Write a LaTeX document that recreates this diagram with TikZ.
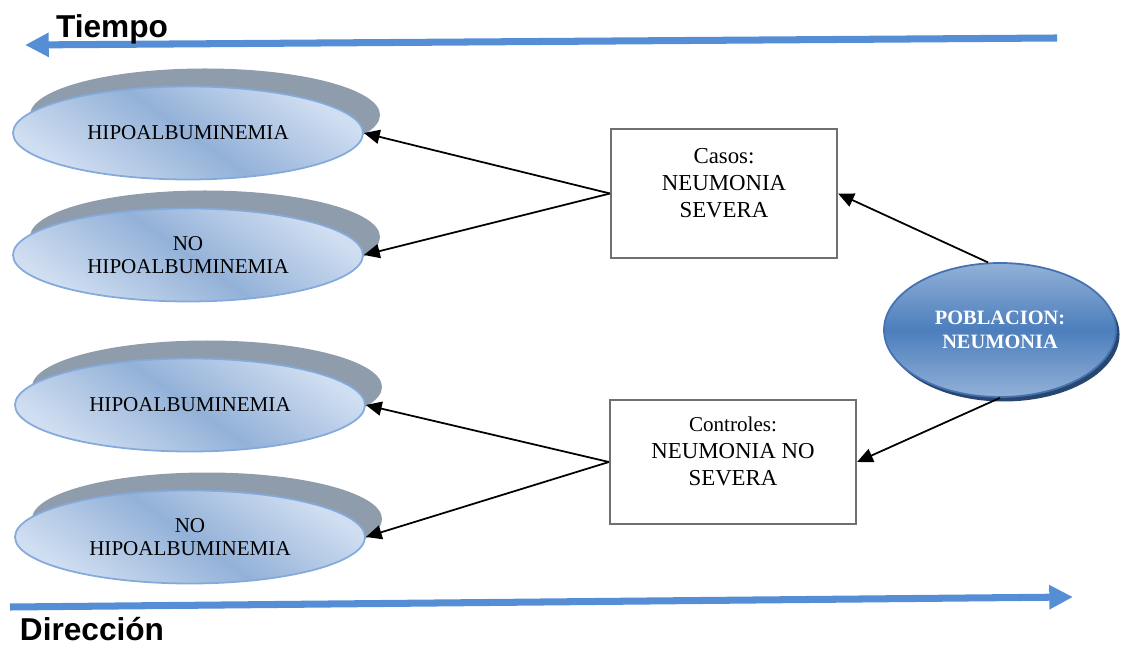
\documentclass[tikz,border=0pt]{standalone}
\usepackage{fontspec}
\setmainfont{Liberation Serif}
\newfontfamily\axisfont{Liberation Sans}
\usepackage{xcolor}
\usepackage{tikz}
\usetikzlibrary{arrows.meta}
\usetikzlibrary{positioning, shapes.geometric, shadows}
\definecolor{axisblue}{RGB}{85,142,213}
\definecolor{ovallight}{RGB}{208,222,241}
\definecolor{ovalmid}{RGB}{147,177,216}
\definecolor{ovalline}{RGB}{132,170,220}
\definecolor{ovalshadow}{RGB}{142,156,171}
\definecolor{popmid}{RGB}{76,126,188}
\definecolor{poplight}{RGB}{146,177,216}
\definecolor{popline}{RGB}{68,114,178}
\definecolor{popshadow}{RGB}{40,70,110}
\definecolor{boxline}{RGB}{112,112,112}
\tikzset{
group oval/.style = { ellipse, draw = ovalline, line width = 1pt, top color = ovallight, bottom color = ovallight, middle color = ovalmid, shading angle = -35, minimum width = 7cm, minimum height = 1.86cm, inner sep = 0pt, align = center, font = \fontsize{12}{13.5}\selectfont, general shadow = {shadow xshift = 0.34cm, shadow yshift = 0.36cm, fill = ovalshadow} },
study box/.style = { rectangle, draw = boxline, line width = 1.2pt, fill = white, inner sep = 0pt, align = center, font = \fontsize{13}{15.2}\selectfont },
pop oval/.style = { ellipse, draw = popline, line width = 1pt, top color = poplight, bottom color = poplight, middle color = popmid, minimum width = 4.64cm, minimum height = 2.68cm, inner sep = 0pt, align = center, text = white, font = \fontsize{11.6}{14}\selectfont\bfseries, general shadow = {shadow xshift = 0.07cm, shadow yshift = -0.09cm, fill = popshadow} },
axis arrow/.style = { draw = axisblue, line width = 4pt, -{Triangle[length = 13.5pt, width = 13pt]} },
axis label/.style = { font = \fontsize{18}{20}\axisfont\bfseries, inner sep = 0pt },
link/.style = { draw = black, line width = 1pt, -{Triangle[length = 9pt, width = 8pt]} },
}
\begin{document}
\begin{tikzpicture}
    \useasboundingbox (0, 0) rectangle (22.5, 12.96);
    % time axis and direction axis
    \coordinate (time start) at (21.14, 12.2);
    \coordinate (time end) at (0.5, 12.06);
    \coordinate (dir start) at (0.2, 0.82);
    \coordinate (dir end) at (21.46, 1.02);
    \draw[axis arrow] (time start) -- (time end);
    \draw[axis arrow] (dir start) -- (dir end);
    \node[axis label] (tiempo) at (2.24, 12.38) {Tiempo};
    \node[axis label] (direccion) at (1.84, 0.38) {Dirección};
    % exposure groups
    \node[group oval] (hipo casos) at (3.76, 10.3) {HIPOALBUMINEMIA};
    \node[group oval] (nohipo casos) at (3.76, 7.86) {NO\\HIPOALBUMINEMIA};
    \node[group oval] (hipo controles) at (3.80, 4.86) {HIPOALBUMINEMIA};
    \node[group oval] (nohipo controles) at (3.80, 2.22) {NO\\HIPOALBUMINEMIA};
    % cases and controls
    \node[study box, minimum width = 4.52cm, minimum height = 2.58cm] (casos) at (14.48, 9.09) {Casos:\\NEUMONIA\\SEVERA\\[-3pt]\mbox{}};
    \node[study box, minimum width = 4.92cm, minimum height = 2.48cm] (controles) at (14.66, 3.72) {{\fontsize{12}{15.2}\selectfont Controles:}\\NEUMONIA NO\\SEVERA\\[-3pt]\mbox{}};
    \node[pop oval] (poblacion) at (20.0, 6.36) {POBLACION:\\NEUMONIA};
    \draw[link] (poblacion.100) -- (casos.east);
    \draw[link] (poblacion.south) -- (controles.east);
    \draw[link] (casos.west) -- (hipo casos.east);
    \draw[link] (casos.west) -- (nohipo casos.east);
    \draw[link] (controles.west) -- (hipo controles.east);
    \draw[link] (controles.west) -- (nohipo controles.east);
\end{tikzpicture}
\end{document}
